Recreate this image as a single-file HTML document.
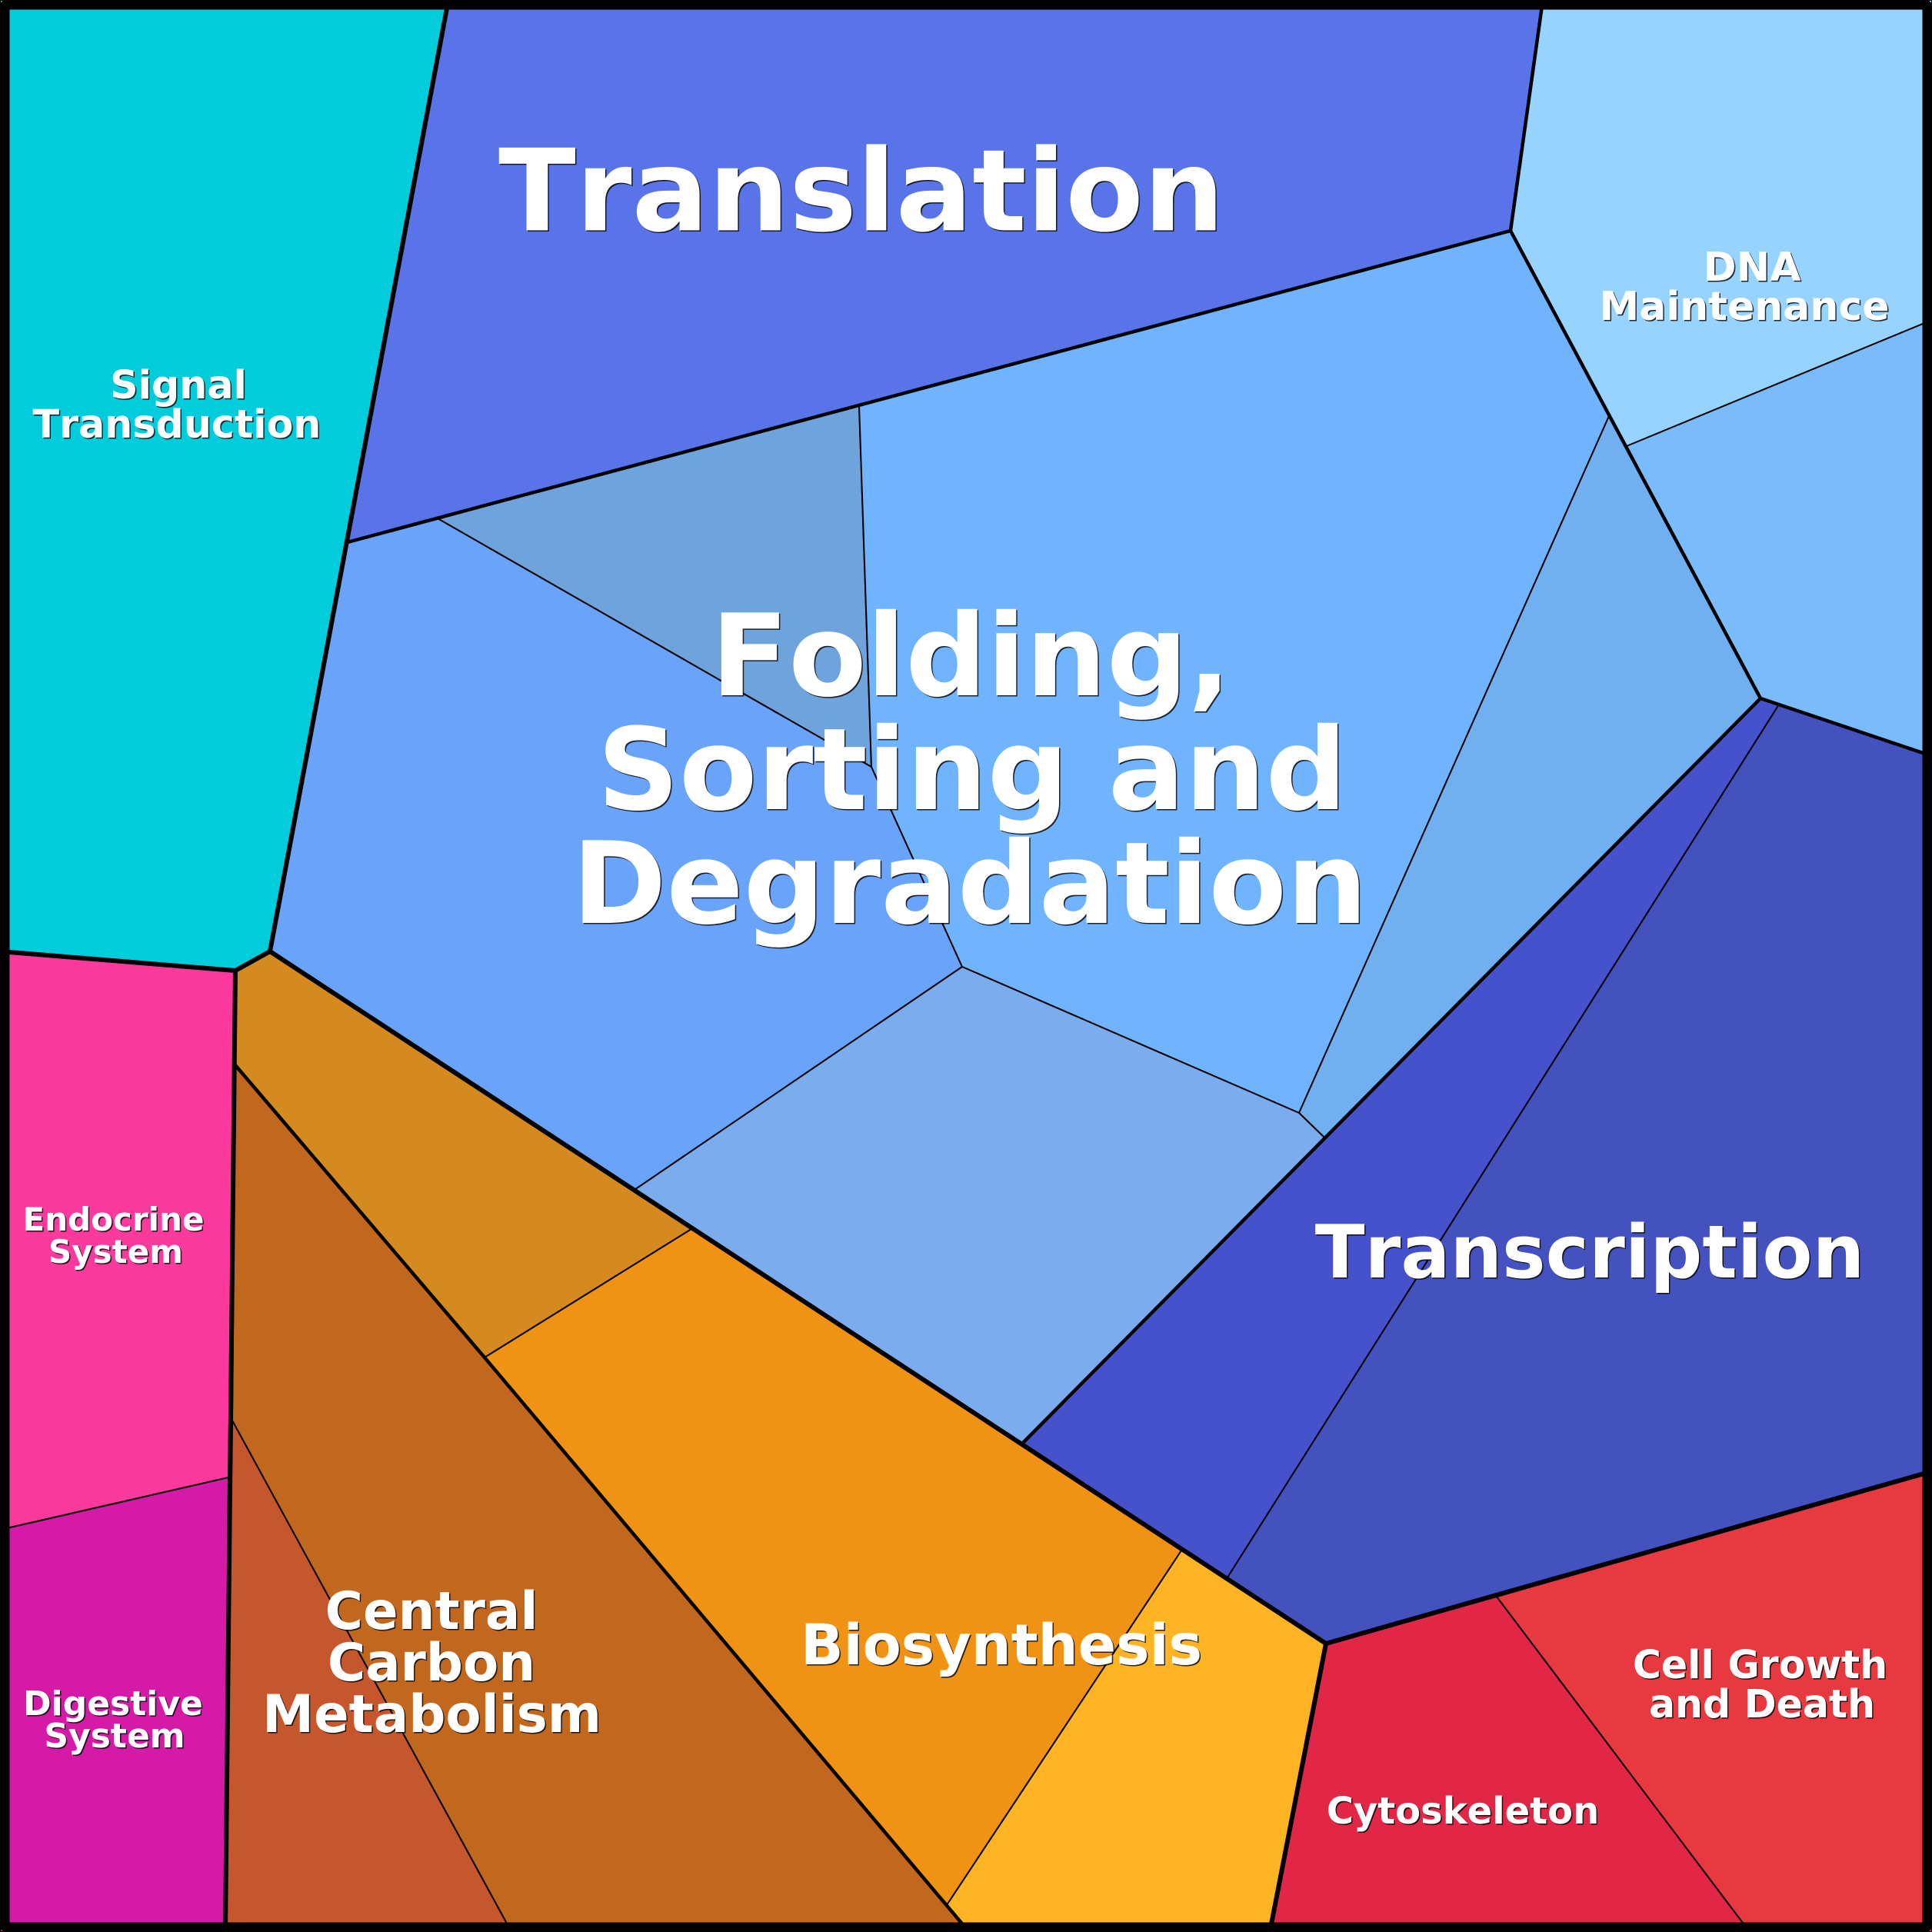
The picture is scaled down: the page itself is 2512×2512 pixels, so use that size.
<!DOCTYPE html>
<html><head><meta charset="utf-8"><style>
html,body{margin:0;padding:0;background:#fff}
svg{display:block}
text{font-family:"DejaVu Sans",sans-serif;font-weight:bold;fill:#fff;text-anchor:middle;font-kerning:none;text-shadow:1.5px 1.5px 0 rgba(0,0,0,.8)}
</style></head><body>
<svg width="2512" height="2512" viewBox="0 0 2512 2512" xmlns="http://www.w3.org/2000/svg">
<g stroke="#000" stroke-width="2" stroke-linejoin="round">
<polygon fill="#00ccdb" points="0,0 583,0 351,1237 306,1262 0,1237"/>
<polygon fill="#5874e8" points="583,0 2006,0 1964,300 1117,527 569,674 452,705"/>
<polygon fill="#69a3fa" points="452,705 569,674 1133,997 1251,1257 825,1547 351,1237"/>
<polygon fill="#6ea3db" points="569,674 1117,527 1133,997"/>
<polygon fill="#70b4ff" points="1117,527 1964,300 2092,541 1689,1447 1251,1257 1133,997"/>
<polygon fill="#70b0f0" points="2092,541 2289,908 1722,1479 1689,1447"/>
<polygon fill="#7aacee" points="825,1547 1251,1257 1689,1447 1722,1479 1329,1877"/>
<polygon fill="#96d4ff" points="2006,0 2512,0 2512,416 2115,580 1964,300"/>
<polygon fill="#7abcfb" points="2115,580 2512,416 2512,983 2289,908"/>
<polygon fill="#4652cc" points="2289,908 2313,916 1596,2051 1329,1877"/>
<polygon fill="#4452c0" points="2313,916 2512,983 2512,1913 1724,2137 1596,2051"/>
<polygon fill="#fc399c" points="0,1237 306,1262 297,1921 0,1989"/>
<polygon fill="#d61aa8" points="0,1989 297,1921 293,2512 0,2512"/>
<polygon fill="#d48a1e" points="306,1262 351,1237 899,1598 630,1765 306,1385"/>
<polygon fill="#c2671e" points="306,1385 630,1765 1231,2477 1260,2512 665,2512 302,1847"/>
<polygon fill="#c6562c" points="302,1847 665,2512 293,2512"/>
<polygon fill="#f09214" points="630,1765 899,1598 1536,2016 1231,2477"/>
<polygon fill="#ffb424" points="1536,2016 1724,2137 1651,2512 1260,2512 1231,2477"/>
<polygon fill="#e22646" points="1724,2137 1946,2076 2275,2512 1651,2512"/>
<polygon fill="#e83840" points="1946,2076 2512,1913 2512,2512 2275,2512"/>
</g>
<g fill="none" stroke="#000" stroke-linejoin="round" stroke-linecap="round">
<path stroke-width="6" d="M0,1237 L306,1262 L351,1237 L583,0 M306,1262 L293,2512 M351,1237 L1724,2137 L1651,2512 M1724,2137 L2512,1913"/>
<path stroke-width="4.5" d="M452,705 L1964,300 L2006,0 M1964,300 L2289,908 L1329,1877 M2289,908 L2512,983 M306,1385 L630,1765 L1260,2512"/>
<rect x="6.5" y="6.5" width="2499" height="2499" stroke-width="12"/>
</g>
<text font-size="147.6" x="1120" y="299.5">Translation</text>
<text font-size="147.7" x="1262.5" y="904">Folding,</text>
<text font-size="147.7" x="1264" y="1052">Sorting and</text>
<text font-size="147.7" x="1261" y="1200">Degradation</text>
<text font-size="95" x="2067" y="1661">Transcription</text>
<text font-size="73" x="1302" y="2164">Biosynthesis</text>
<text font-size="67.3" x="561" y="2118">Central</text>
<text font-size="67.3" x="561" y="2185">Carbon</text>
<text font-size="67.3" x="561.5" y="2252">Metabolism</text>
<text font-size="50.7" x="232" y="518">Signal</text>
<text font-size="50.7" x="230" y="569">Transduction</text>
<text font-size="52" x="2278" y="365">DNA</text>
<text font-size="52" x="2268" y="416">Maintenance</text>
<text font-size="42" x="147.5" y="1600">Endocrine</text>
<text font-size="42" x="150.5" y="1642">System</text>
<text font-size="44" x="147" y="2230">Digestive</text>
<text font-size="44" x="149" y="2272">System</text>
<text font-size="50.5" x="2288.5" y="2182">Cell Growth</text>
<text font-size="50.5" x="2291" y="2233">and Death</text>
<text font-size="48" x="1902" y="2371">Cytoskeleton</text>
</svg>
</body></html>
